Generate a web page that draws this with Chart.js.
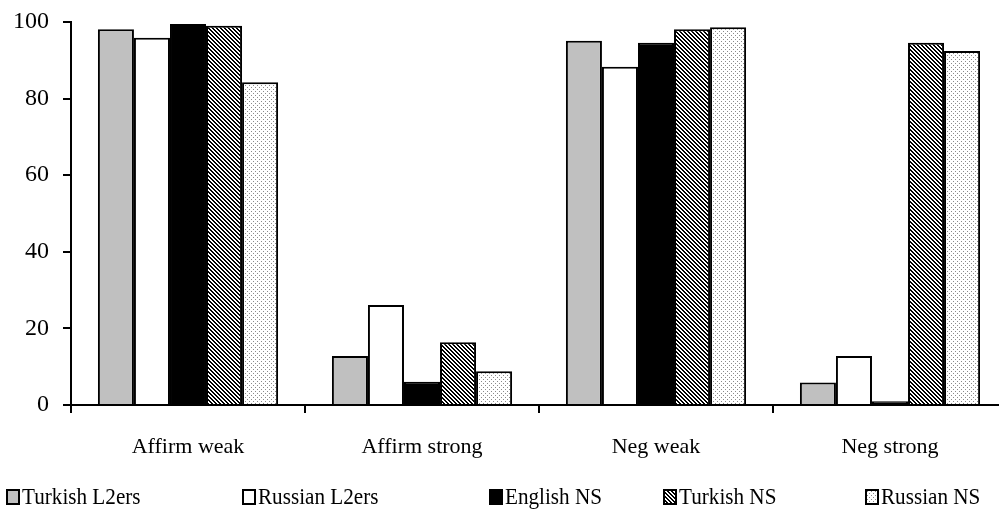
<!DOCTYPE html>
<html><head><meta charset="utf-8">
<script src="https://cdn.jsdelivr.net/npm/chart.js@4/dist/chart.umd.min.js"></script>
<style>
html,body{margin:0;padding:0;background:#fff;overflow:hidden;width:999px;height:520px}
#wrap{position:relative;width:1016px;height:520px}
</style>
</head><body>
<div id="wrap"><canvas id="c" width="1016" height="520"></canvas></div>
<script>
const categories = ["Affirm weak", "Affirm strong", "Neg weak", "Neg strong"];
const seriesNames = ["Turkish L2ers", "Russian L2ers", "English NS", "Turkish NS", "Russian NS"];
const turkishL2ers = [98.1, 12.8, 95.1, 5.9];
const russianL2ers = [95.9, 26.1, 88.3, 12.8];
const englishNS = [99.5, 6.1, 94.6, 1.0];
const turkishNS = [99.0, 16.4, 98.1, 94.6];
const russianNS = [84.3, 8.8, 98.6, 92.4];
const yTicks = [0, 20, 40, 60, 80, 100];

const FONT = '"Liberation Serif"';

function hatchPattern() {
  const c = document.createElement('canvas'); c.width = 4; c.height = 4;
  const g = c.getContext('2d');
  g.fillStyle = '#fff'; g.fillRect(0, 0, 4, 4);
  g.fillStyle = '#000';
  for (let y = 0; y < 4; y++) for (let dx = 0; dx < 2; dx++) g.fillRect((y + dx) % 4, y, 1, 1);
  return g.createPattern(c, 'repeat');
}
function dotPattern() {
  const c = document.createElement('canvas'); c.width = 4; c.height = 4;
  const g = c.getContext('2d');
  g.fillStyle = '#fff'; g.fillRect(0, 0, 4, 4);
  g.fillStyle = '#8a8a8a';
  g.fillRect(1, 1, 1, 1); g.fillRect(3, 3, 1, 1);
  return g.createPattern(c, 'repeat');
}

const fills = ['#c0c0c0', '#ffffff', '#000000', hatchPattern(), dotPattern()];
const seriesValues = [turkishL2ers, russianL2ers, englishNS, turkishNS, russianNS];
const legendBoxX = [7, 243, 490, 664, 866];

const customLegend = {
  id: 'customLegend',
  afterDraw(chart) {
    const ctx = chart.ctx;
    ctx.save();
    const cy = 497;
    chart.data.datasets.forEach((ds, i) => {
      const x = legendBoxX[i];
      ctx.fillStyle = ds.backgroundColor;
      ctx.fillRect(x, cy - 7, 12, 14);
      ctx.lineWidth = 2; ctx.strokeStyle = '#000';
      ctx.strokeRect(x, cy - 7, 12, 14);
      ctx.save();
      ctx.translate(x + 15, cy + 1);
      ctx.scale(0.92, 1);
      ctx.font = "23px " + FONT;
      ctx.textBaseline = 'middle';
      ctx.textAlign = 'left';
      ctx.fillStyle = '#000';
      ctx.fillText(ds.label, 0, 0);
      ctx.restore();
    });
    ctx.restore();
  }
};

function build() {
  new Chart(document.getElementById('c'), {
    type: 'bar',
    data: {
      labels: categories,
      datasets: seriesNames.map((n, i) => ({
        label: n,
        data: seriesValues[i],
        backgroundColor: fills[i],
        borderColor: '#000',
        borderWidth: 2,
        borderSkipped: 'bottom',
        categoryPercentage: 0.77,
        barPercentage: 1.0
      }))
    },
    options: {
      responsive: false,
      animation: false,
      layout: { padding: { top: 22, right: 9, bottom: 60, left: 0 } },
      plugins: { legend: { display: false }, tooltip: { enabled: false } },
      scales: {
        x: {
          afterFit(s) { s.height = 55; s.paddingLeft = 0; s.paddingRight = 0; },
          grid: { display: true, drawOnChartArea: false, drawTicks: true, tickLength: 8, color: '#000', lineWidth: 2, offset: true },
          border: { display: true, color: '#000', width: 2 },
          ticks: { color: '#000', font: { family: FONT, size: 22 }, padding: 21, maxRotation: 0 }
        },
        y: {
          min: 0, max: 100,
          afterFit(s) { s.width = 71; s.paddingTop = 0; s.paddingBottom = 0; },
          afterBuildTicks(s) { s.ticks = yTicks.map(v => ({ value: v })); },
          grid: { display: true, drawOnChartArea: false, drawTicks: true, tickLength: 8, color: '#000', lineWidth: 2 },
          border: { display: true, color: '#000', width: 2 },
          ticks: { color: '#000', font: { family: FONT, size: 24 }, padding: 14 }
        }
      }
    },
    plugins: [customLegend]
  });
}
if (document.fonts && document.fonts.load) {
  document.fonts.load('24px "Liberation Serif"').then(build, build);
} else { build(); }
</script>
</body></html>
